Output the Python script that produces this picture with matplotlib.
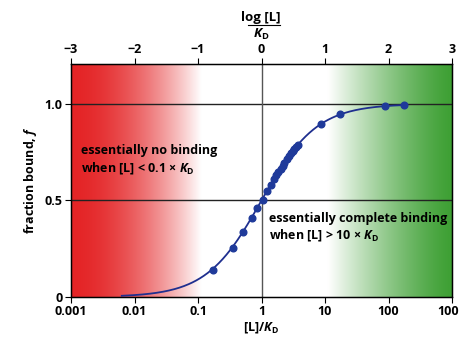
import numpy as np
import matplotlib
matplotlib.use("Agg")
import matplotlib.pyplot as plt

# data
ratio = [0.171, 0.353, 0.508, 0.70, 0.855, 1.04, 1.23, 1.39, 1.56, 1.7, 1.85, 2.0, 2.15,
         2.3, 2.5, 2.7, 2.9, 3.1, 3.3, 3.5, 3.7, 8.8, 17.5, 87, 174]
fraction = [0.14, 0.255, 0.335, 0.41, 0.46, 0.505, 0.55, 0.58, 0.61, 0.63, 0.65, 0.665, 0.68,
            0.695, 0.715, 0.73, 0.745, 0.755, 0.768, 0.778, 0.787, 0.898, 0.946, 0.989, 0.994]
curve_start, curve_end = 0.0063, 174
bottom_ticks = [0.001, 0.01, 0.1, 1, 10, 100, 1000]
bottom_labels = ["0.001", "0.01", "0.1", "1", "10", "100", "1000"]
top_ticks = [-3, -2, -1, 0, 1, 2, 3]
top_labels = ["\u22123", "\u22122", "\u22121", "0", "1", "2", "3"]
y_ticks = [0, 0.5, 1.0]
y_labels = ["0", "0.5", "1.0"]

plt.rcParams['font.family'] = ['Open Sans', 'DejaVu Sans']
plt.rcParams['font.weight'] = 'bold'
plt.rcParams['mathtext.fontset'] = 'custom'
plt.rcParams['mathtext.it'] = 'Open Sans:italic:bold'
plt.rcParams['mathtext.rm'] = 'Open Sans:bold'

FS = 9

fig = plt.figure(figsize=(4.59, 3.37), dpi=100)
ax = fig.add_axes([71/459, 1-297/337, (452-71)/459, (297-64)/337])
ax.set_xscale('log')
ax.set_xlim(0.001, 1000)
ax.set_ylim(0, 1.207)

# background gradient
n = 600
t = np.linspace(0, 1, n)
lg = -3 + 6 * t
img = np.ones((1, n, 3))
red = np.array([228, 36, 38]) / 255
green = np.array([62, 160, 52]) / 255
white = np.array([1, 1, 1])
for i, v in enumerate(lg):
    if v < -0.95:
        s = np.clip((v + 0.95) / (-3 + 0.95), 0, 1)
        a = 1 - (1 - s) ** 1.8
        img[0, i] = white * (1 - a) + red * a
    elif v > 1.05:
        s = np.clip((v - 1.05) / (3 - 1.05), 0, 1)
        a = 1 - (1 - s) ** 1.3
        img[0, i] = white * (1 - a) + green * a
ax.imshow(img, extent=[0, 1, 0, 1], transform=ax.transAxes, aspect='auto', zorder=0)

ax.axhline(1.0, color='#222222', lw=1.0, zorder=1)
ax.axhline(0.5, color='#222222', lw=1.0, zorder=1)
ax.axvline(1, color='#555555', lw=1.0, zorder=1)

xs = np.logspace(np.log10(curve_start), np.log10(curve_end), 300)
ax.plot(xs, xs / (1 + xs), color='#1f2f8f', lw=1.3, zorder=3)
ax.plot(ratio, fraction, 'o', color='#1f3a9a', ms=4.8, zorder=4)

ax.set_xticks(bottom_ticks)
ax.set_xticklabels(bottom_labels)
ax.xaxis.set_minor_locator(matplotlib.ticker.NullLocator())
ax.set_yticks(y_ticks)
ax.set_yticklabels(y_labels)
ax.tick_params(labelsize=FS, length=4, width=0.8, pad=2)
for s in ax.spines.values():
    s.set_linewidth(1.0)

ax2 = ax.twiny()
ax2.set_xlim(-3, 3)
ax2.set_xticks(top_ticks)
ax2.set_xticklabels(top_labels)
ax2.tick_params(labelsize=FS, length=4, width=0.8, pad=2)

ax.set_xlabel(r'[L]/$K_\mathrm{D}$', fontsize=FS, fontweight='bold', labelpad=1)
ax.set_ylabel(r'fraction bound, $f$', fontsize=FS, fontweight='bold', labelpad=4)

# top label
fig.text(261/459, 1-17/337, 'log [L]', ha='center', va='center', fontsize=9.5, fontweight='bold')
fig.add_artist(plt.Line2D([248/459, 280/459], [1-24.5/337, 1-24.5/337], color='black', lw=0.8))
fig.text(261/459, 1-34/337, r'$K_\mathrm{D}$', ha='center', va='center', fontsize=9.5)

ax.text(0.00145, 0.71, 'essentially no binding\nwhen [L] < 0.1 \u00d7 $K_\\mathrm{D}$',
        fontsize=FS, fontweight='bold', va='center', ha='left', linespacing=1.2, zorder=5)
ax.text(1.3, 0.36, 'essentially complete binding\nwhen [L] > 10 \u00d7 $K_\\mathrm{D}$',
        fontsize=FS, fontweight='bold', va='center', ha='left', linespacing=1.2, zorder=5)

fig.savefig('out.png', dpi=100)
